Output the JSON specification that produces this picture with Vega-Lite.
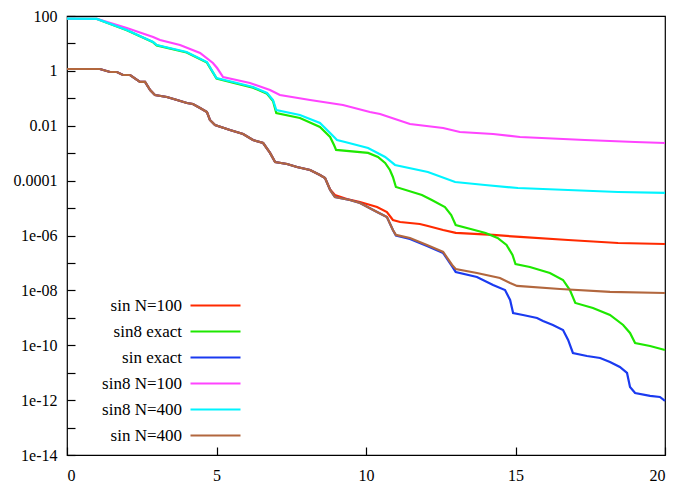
{
  "$schema": "https://vega.github.io/schema/vega-lite/v6.json",
  "width": 598,
  "height": 439,
  "autosize": {"type": "none"},
  "padding": {"left": 67, "top": 16, "right": 10, "bottom": 31},
  "background": "white",
  "config": {
    "view": {"stroke": "black", "strokeWidth": 1.2},
    "axis": {"labelFont": "serif", "labelFontSize": 16, "labelColor": "black", "grid": false, "domain": false, "ticks": true, "tickColor": "black", "tickSize": 8, "tickWidth": 1.2, "offset": -8, "labelPadding": 10},
    "legend": {"orient": "none", "legendX": 139, "legendY": 280, "symbolType": "M-3.125,0H3.125", "symbolSize": 256, "symbolStrokeWidth": 2.5, "labelAlign": "right", "labelOffset": -43, "labelFont": "serif", "labelFontSize": 17, "labelColor": "black", "rowPadding": 8, "padding": 0, "title": null}
  },
  "data": {"values": [
    {"s":"sin N=100","x":0,"y":1.17},{"s":"sin N=100","x":1.1,"y":1.17},{"s":"sin N=100","x":1.44,"y":0.91},{"s":"sin N=100","x":1.67,"y":0.91},{"s":"sin N=100","x":1.87,"y":0.708},{"s":"sin N=100","x":2.11,"y":0.708},{"s":"sin N=100","x":2.44,"y":0.394},{"s":"sin N=100","x":2.61,"y":0.394},{"s":"sin N=100","x":2.78,"y":0.201},{"s":"sin N=100","x":2.94,"y":0.132},{"s":"sin N=100","x":3.34,"y":0.112},{"s":"sin N=100","x":3.68,"y":0.0869},{"s":"sin N=100","x":4.01,"y":0.0675},{"s":"sin N=100","x":4.21,"y":0.0621},{"s":"sin N=100","x":4.45,"y":0.0444},{"s":"sin N=100","x":4.68,"y":0.0317},{"s":"sin N=100","x":4.78,"y":0.0162},{"s":"sin N=100","x":4.95,"y":0.0107},{"s":"sin N=100","x":5.45,"y":0.007},{"s":"sin N=100","x":5.89,"y":0.00501},{"s":"sin N=100","x":6.22,"y":0.00303},{"s":"sin N=100","x":6.56,"y":0.00235},{"s":"sin N=100","x":6.79,"y":0.00102},{"s":"sin N=100","x":6.96,"y":0.000477},{"s":"sin N=100","x":7.36,"y":0.000404},{"s":"sin N=100","x":7.69,"y":0.000314},{"s":"sin N=100","x":8.13,"y":0.000244},{"s":"sin N=100","x":8.46,"y":0.000161},{"s":"sin N=100","x":8.63,"y":0.000125},{"s":"sin N=100","x":8.8,"y":4.8e-5},{"s":"sin N=100","x":8.96,"y":3.0e-5},{"s":"sin N=100","x":9.36,"y":2.14e-5},{"s":"sin N=100","x":9.8,"y":1.67e-5},{"s":"sin N=100","x":10.37,"y":1.09e-5},{"s":"sin N=100","x":10.7,"y":7.19e-6},{"s":"sin N=100","x":10.9,"y":3.68e-6},{"s":"sin N=100","x":11.14,"y":3.11e-6},{"s":"sin N=100","x":11.8,"y":2.63e-6},{"s":"sin N=100","x":12.07,"y":2.22e-6},{"s":"sin N=100","x":12.58,"y":1.59e-6},{"s":"sin N=100","x":13.0,"y":1.24e-6},{"s":"sin N=100","x":14.25,"y":1.05e-6},{"s":"sin N=100","x":15.15,"y":8.85e-7},{"s":"sin N=100","x":16.76,"y":6.87e-7},{"s":"sin N=100","x":18.43,"y":5.34e-7},{"s":"sin N=100","x":20,"y":4.91e-7},

    {"s":"sin8 exact","x":0,"y":80},{"s":"sin8 exact","x":1,"y":78},{"s":"sin8 exact","x":2.0,"y":30},{"s":"sin8 exact","x":2.88,"y":11},{"s":"sin8 exact","x":3.0,"y":8.5},{"s":"sin8 exact","x":4.0,"y":4.7},{"s":"sin8 exact","x":4.68,"y":2.0},{"s":"sin8 exact","x":5.0,"y":0.53},{"s":"sin8 exact","x":5.55,"y":0.37},{"s":"sin8 exact","x":6.22,"y":0.245},{"s":"sin8 exact","x":6.69,"y":0.147},{"s":"sin8 exact","x":6.89,"y":0.08},{"s":"sin8 exact","x":7.0,"y":0.0292},{"s":"sin8 exact","x":7.79,"y":0.0192},{"s":"sin8 exact","x":8.46,"y":0.00901},{"s":"sin8 exact","x":8.8,"y":0.00389},{"s":"sin8 exact","x":8.93,"y":0.00199},{"s":"sin8 exact","x":9.0,"y":0.00131},{"s":"sin8 exact","x":10.07,"y":0.00102},{"s":"sin8 exact","x":10.4,"y":0.000728},{"s":"sin8 exact","x":10.64,"y":0.00044},{"s":"sin8 exact","x":10.8,"y":0.000244},{"s":"sin8 exact","x":10.9,"y":0.000136},{"s":"sin8 exact","x":11.0,"y":5.86e-5},{"s":"sin8 exact","x":11.87,"y":3.0e-5},{"s":"sin8 exact","x":12.2,"y":1.97e-5},{"s":"sin8 exact","x":12.64,"y":1.09e-5},{"s":"sin8 exact","x":12.85,"y":5.6e-6},{"s":"sin8 exact","x":13.0,"y":2.42e-6},{"s":"sin8 exact","x":13.5,"y":1.73e-6},{"s":"sin8 exact","x":14.0,"y":1.24e-6},{"s":"sin8 exact","x":14.4,"y":8.13e-7},{"s":"sin8 exact","x":14.7,"y":4.52e-7},{"s":"sin8 exact","x":14.9,"y":1.95e-7},{"s":"sin8 exact","x":15.0,"y":9.16e-8},{"s":"sin8 exact","x":15.48,"y":7.13e-8},{"s":"sin8 exact","x":16.15,"y":4.31e-8},{"s":"sin8 exact","x":16.59,"y":2.39e-8},{"s":"sin8 exact","x":16.82,"y":1.03e-8},{"s":"sin8 exact","x":17.0,"y":3.48e-9},{"s":"sin8 exact","x":17.59,"y":2.29e-9},{"s":"sin8 exact","x":18.16,"y":1.27e-9},{"s":"sin8 exact","x":18.6,"y":5.48e-10},{"s":"sin8 exact","x":18.83,"y":2.8e-10},{"s":"sin8 exact","x":19.0,"y":1.21e-10},{"s":"sin8 exact","x":19.5,"y":9.42e-11},{"s":"sin8 exact","x":20,"y":6.73e-11},

    {"s":"sin exact","x":0,"y":1.17},{"s":"sin exact","x":1.1,"y":1.17},{"s":"sin exact","x":1.44,"y":0.91},{"s":"sin exact","x":1.67,"y":0.91},{"s":"sin exact","x":1.87,"y":0.708},{"s":"sin exact","x":2.11,"y":0.708},{"s":"sin exact","x":2.44,"y":0.394},{"s":"sin exact","x":2.61,"y":0.394},{"s":"sin exact","x":2.78,"y":0.201},{"s":"sin exact","x":2.94,"y":0.132},{"s":"sin exact","x":3.34,"y":0.112},{"s":"sin exact","x":3.68,"y":0.0869},{"s":"sin exact","x":4.01,"y":0.0675},{"s":"sin exact","x":4.21,"y":0.0621},{"s":"sin exact","x":4.45,"y":0.0444},{"s":"sin exact","x":4.68,"y":0.0317},{"s":"sin exact","x":4.78,"y":0.0162},{"s":"sin exact","x":4.95,"y":0.0107},{"s":"sin exact","x":5.45,"y":0.007},{"s":"sin exact","x":5.89,"y":0.00501},{"s":"sin exact","x":6.22,"y":0.00303},{"s":"sin exact","x":6.56,"y":0.00235},{"s":"sin exact","x":6.79,"y":0.00102},{"s":"sin exact","x":6.96,"y":0.000477},{"s":"sin exact","x":7.36,"y":0.000404},{"s":"sin exact","x":7.69,"y":0.000314},{"s":"sin exact","x":8.13,"y":0.000244},{"s":"sin exact","x":8.46,"y":0.000161},{"s":"sin exact","x":8.63,"y":0.000125},{"s":"sin exact","x":8.8,"y":4.56e-5},{"s":"sin exact","x":8.96,"y":2.54e-5},{"s":"sin exact","x":9.46,"y":1.97e-5},{"s":"sin exact","x":9.8,"y":1.53e-5},{"s":"sin exact","x":10.37,"y":7.19e-6},{"s":"sin exact","x":10.7,"y":4.73e-6},{"s":"sin exact","x":10.9,"y":1.59e-6},{"s":"sin exact","x":11.0,"y":1.0e-6},{"s":"sin exact","x":11.47,"y":7.47e-7},{"s":"sin exact","x":12.04,"y":4.15e-7},{"s":"sin exact","x":12.58,"y":2.3e-7},{"s":"sin exact","x":12.88,"y":7.5e-8},{"s":"sin exact","x":13.0,"y":4.69e-8},{"s":"sin exact","x":13.71,"y":3.08e-8},{"s":"sin exact","x":14.25,"y":1.57e-8},{"s":"sin exact","x":14.65,"y":1.03e-8},{"s":"sin exact","x":14.82,"y":4.47e-9},{"s":"sin exact","x":14.92,"y":1.5e-9},{"s":"sin exact","x":15.25,"y":1.27e-9},{"s":"sin exact","x":15.72,"y":9.86e-10},{"s":"sin exact","x":15.92,"y":7.67e-10},{"s":"sin exact","x":16.25,"y":5.48e-10},{"s":"sin exact","x":16.59,"y":3.6e-10},{"s":"sin exact","x":16.76,"y":1.56e-10},{"s":"sin exact","x":16.92,"y":5.22e-11},{"s":"sin exact","x":17.39,"y":4.06e-11},{"s":"sin exact","x":17.83,"y":3.44e-11},{"s":"sin exact","x":18.16,"y":2.46e-11},{"s":"sin exact","x":18.49,"y":1.62e-11},{"s":"sin exact","x":18.73,"y":9.77e-12},{"s":"sin exact","x":18.83,"y":3.02e-12},{"s":"sin exact","x":19.0,"y":1.82e-12},{"s":"sin exact","x":19.5,"y":1.42e-12},{"s":"sin exact","x":19.83,"y":1.3e-12},{"s":"sin exact","x":20,"y":9.31e-13},

    {"s":"sin8 N=100","x":0,"y":80},{"s":"sin8 N=100","x":1,"y":78},{"s":"sin8 N=100","x":2.0,"y":36.6},{"s":"sin8 N=100","x":2.88,"y":17.2},{"s":"sin8 N=100","x":3.11,"y":13.3},{"s":"sin8 N=100","x":3.78,"y":8.77},{"s":"sin8 N=100","x":4.45,"y":4.49},{"s":"sin8 N=100","x":4.88,"y":1.94},{"s":"sin8 N=100","x":5.02,"y":1.27},{"s":"sin8 N=100","x":5.22,"y":0.598},{"s":"sin8 N=100","x":6.12,"y":0.361},{"s":"sin8 N=100","x":6.79,"y":0.201},{"s":"sin8 N=100","x":7.12,"y":0.132},{"s":"sin8 N=100","x":8.13,"y":0.0869},{"s":"sin8 N=100","x":9.23,"y":0.0571},{"s":"sin8 N=100","x":10.13,"y":0.0317},{"s":"sin8 N=100","x":10.47,"y":0.0268},{"s":"sin8 N=100","x":11.47,"y":0.0116},{"s":"sin8 N=100","x":12.58,"y":0.00828},{"s":"sin8 N=100","x":13.14,"y":0.00592},{"s":"sin8 N=100","x":14.25,"y":0.00501},{"s":"sin8 N=100","x":15.15,"y":0.00389},{"s":"sin8 N=100","x":17.32,"y":0.00303},{"s":"sin8 N=100","x":19.0,"y":0.00256},{"s":"sin8 N=100","x":20,"y":0.00235},

    {"s":"sin8 N=400","x":0,"y":80},{"s":"sin8 N=400","x":1,"y":78},{"s":"sin8 N=400","x":2.0,"y":30.9},{"s":"sin8 N=400","x":2.88,"y":11.3},{"s":"sin8 N=400","x":3.0,"y":8.77},{"s":"sin8 N=400","x":4.0,"y":4.88},{"s":"sin8 N=400","x":4.68,"y":2.11},{"s":"sin8 N=400","x":5.0,"y":0.55},{"s":"sin8 N=400","x":5.55,"y":0.394},{"s":"sin8 N=400","x":6.22,"y":0.259},{"s":"sin8 N=400","x":6.69,"y":0.156},{"s":"sin8 N=400","x":6.89,"y":0.0869},{"s":"sin8 N=400","x":7.0,"y":0.0375},{"s":"sin8 N=400","x":7.79,"y":0.0247},{"s":"sin8 N=400","x":8.46,"y":0.0126},{"s":"sin8 N=400","x":8.8,"y":0.00545},{"s":"sin8 N=400","x":9.03,"y":0.00303},{"s":"sin8 N=400","x":9.3,"y":0.00256},{"s":"sin8 N=400","x":10.07,"y":0.00155},{"s":"sin8 N=400","x":10.64,"y":0.000728},{"s":"sin8 N=400","x":10.97,"y":0.000372},{"s":"sin8 N=400","x":12.07,"y":0.000206},{"s":"sin8 N=400","x":12.98,"y":8.91e-5},{"s":"sin8 N=400","x":13.98,"y":6.93e-5},{"s":"sin8 N=400","x":15.08,"y":5.39e-5},{"s":"sin8 N=400","x":16.76,"y":4.56e-5},{"s":"sin8 N=400","x":18.43,"y":3.85e-5},{"s":"sin8 N=400","x":20,"y":3.55e-5},

    {"s":"sin N=400","x":0,"y":1.17},{"s":"sin N=400","x":1.1,"y":1.17},{"s":"sin N=400","x":1.44,"y":0.91},{"s":"sin N=400","x":1.67,"y":0.91},{"s":"sin N=400","x":1.87,"y":0.708},{"s":"sin N=400","x":2.11,"y":0.708},{"s":"sin N=400","x":2.44,"y":0.394},{"s":"sin N=400","x":2.61,"y":0.394},{"s":"sin N=400","x":2.78,"y":0.201},{"s":"sin N=400","x":2.94,"y":0.132},{"s":"sin N=400","x":3.34,"y":0.112},{"s":"sin N=400","x":3.68,"y":0.0869},{"s":"sin N=400","x":4.01,"y":0.0675},{"s":"sin N=400","x":4.21,"y":0.0621},{"s":"sin N=400","x":4.45,"y":0.0444},{"s":"sin N=400","x":4.68,"y":0.0317},{"s":"sin N=400","x":4.78,"y":0.0162},{"s":"sin N=400","x":4.95,"y":0.0107},{"s":"sin N=400","x":5.45,"y":0.007},{"s":"sin N=400","x":5.89,"y":0.00501},{"s":"sin N=400","x":6.22,"y":0.00303},{"s":"sin N=400","x":6.56,"y":0.00235},{"s":"sin N=400","x":6.79,"y":0.00102},{"s":"sin N=400","x":6.96,"y":0.000477},{"s":"sin N=400","x":7.36,"y":0.000404},{"s":"sin N=400","x":7.69,"y":0.000314},{"s":"sin N=400","x":8.13,"y":0.000244},{"s":"sin N=400","x":8.46,"y":0.000161},{"s":"sin N=400","x":8.63,"y":0.000125},{"s":"sin N=400","x":8.8,"y":4.56e-5},{"s":"sin N=400","x":8.96,"y":2.54e-5},{"s":"sin N=400","x":9.46,"y":1.97e-5},{"s":"sin N=400","x":9.8,"y":1.53e-5},{"s":"sin N=400","x":10.37,"y":7.19e-6},{"s":"sin N=400","x":10.7,"y":4.73e-6},{"s":"sin N=400","x":10.9,"y":1.59e-6},{"s":"sin N=400","x":11.0,"y":1.05e-6},{"s":"sin N=400","x":11.47,"y":8.13e-7},{"s":"sin N=400","x":12.04,"y":4.52e-7},{"s":"sin N=400","x":12.58,"y":2.51e-7},{"s":"sin N=400","x":12.88,"y":8.43e-8},{"s":"sin N=400","x":13.0,"y":6.03e-8},{"s":"sin N=400","x":13.71,"y":4.31e-8},{"s":"sin N=400","x":14.48,"y":2.83e-8},{"s":"sin N=400","x":14.82,"y":1.86e-8},{"s":"sin N=400","x":15.05,"y":1.45e-8},{"s":"sin N=400","x":16.49,"y":1.12e-8},{"s":"sin N=400","x":18.16,"y":8.75e-9},{"s":"sin N=400","x":20,"y":8.04e-9}
  ]},
  "mark": {"type": "line"},
  "encoding": {
    "x": {"field": "x", "type": "quantitative", "scale": {"domain": [0, 20], "nice": false, "zero": false}, "axis": {"orient": "bottom", "values": [0, 5, 10, 15, 20], "title": null, "format": "d", "labelPadding": 12}},
    "y": {"field": "y", "type": "quantitative", "scale": {"type": "log", "domain": [1e-14, 100], "nice": false}, "axis": {"orient": "left", "title": null, "values": [1e-14, 1e-13, 1e-12, 1e-11, 1e-10, 1e-9, 1e-8, 1e-7, 1e-6, 1e-5, 1e-4, 1e-3, 1e-2, 1e-1, 1, 10, 100], "labelExpr": "round(log(datum.value)/LN10) == 2 ? '100' : round(log(datum.value)/LN10) == 0 ? '1' : round(log(datum.value)/LN10) == -2 ? '0.01' : round(log(datum.value)/LN10) == -4 ? '0.0001' : round(log(datum.value)/LN10) == -6 ? '1e-06' : round(log(datum.value)/LN10) == -8 ? '1e-08' : round(log(datum.value)/LN10) == -10 ? '1e-10' : round(log(datum.value)/LN10) == -12 ? '1e-12' : round(log(datum.value)/LN10) == -14 ? '1e-14' : ''"}},
    "color": {"field": "s", "type": "nominal", "scale": {"domain": ["sin N=100", "sin8 exact", "sin exact", "sin8 N=100", "sin8 N=400", "sin N=400"], "range": ["#ff2a00", "#1ee800", "#1a3af0", "#ff44ff", "#00f4ff", "#b2673e"]}, "legend": {"title": null}},
    "strokeWidth": {"field": "s", "type": "nominal", "scale": {"domain": ["sin N=100", "sin8 exact", "sin exact", "sin8 N=100", "sin8 N=400", "sin N=400"], "range": [2.2, 2.2, 2.2, 2.2, 2.4, 3.2]}, "legend": null}
  }
}
